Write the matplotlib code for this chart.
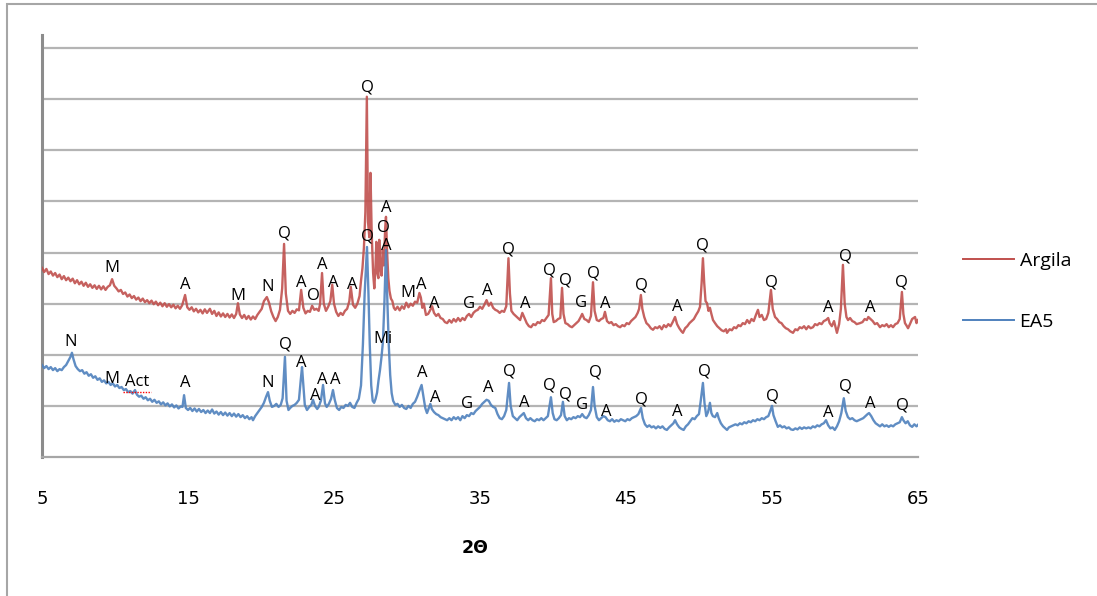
import matplotlib
matplotlib.use("Agg")
import matplotlib.pyplot as plt
from matplotlib.patches import Rectangle
from matplotlib.lines import Line2D

# --- Argila (red) : 2theta / intensity (grid units) ---
argila_2theta = [
    5.0, 5.15, 5.3, 5.45, 5.6, 5.75, 5.9, 6.05, 6.2, 6.35, 6.5, 6.65, 6.8, 6.95, 7.1, 7.25, 7.4, 7.55,
    7.7, 7.85, 8.0, 8.15, 8.3, 8.45, 8.6, 8.75, 8.9, 9.05, 9.2, 9.35, 9.5, 9.65, 9.8, 9.95, 10.1, 10.25,
    10.4, 10.55, 10.7, 10.85, 11.0, 11.15, 11.3, 11.45, 11.6, 11.75, 11.9, 12.05, 12.2, 12.35, 12.5,
    12.65, 12.8, 12.95, 13.1, 13.25, 13.4, 13.55, 13.7, 13.85, 14.0, 14.15, 14.3, 14.45, 14.6, 14.8,
    14.95, 15.1, 15.25, 15.4, 15.55, 15.7, 15.85, 16.0, 16.15, 16.3, 16.5, 16.65, 16.8, 16.95, 17.1,
    17.25, 17.4, 17.55, 17.7, 17.85, 18.0, 18.15, 18.3, 18.42, 18.55, 18.7, 18.85, 19.0, 19.15, 19.3,
    19.45, 19.6, 19.75, 19.9, 20.05, 20.2, 20.4, 20.55, 20.7, 20.85, 21.0, 21.15, 21.3, 21.45, 21.58,
    21.7, 21.85, 22.0, 22.15, 22.3, 22.45, 22.6, 22.75, 22.9, 23.05, 23.2, 23.35, 23.5, 23.65, 23.8,
    23.95, 24.05, 24.18, 24.3, 24.45, 24.6, 24.75, 24.88, 25.0, 25.15, 25.3, 25.45, 25.6, 25.75, 25.9,
    26.05, 26.15, 26.3, 26.45, 26.6, 26.75, 26.85, 26.95, 27.05, 27.15, 27.25, 27.33, 27.42, 27.5,
    27.58, 27.68, 27.76, 27.84, 27.9, 27.97, 28.04, 28.1, 28.18, 28.26, 28.34, 28.42, 28.5, 28.56,
    28.64, 28.72, 28.8, 28.9, 29.0, 29.1, 29.2, 29.35, 29.5, 29.65, 29.8, 29.95, 30.1, 30.25, 30.4,
    30.55, 30.7, 30.85, 30.95, 31.05, 31.15, 31.3, 31.45, 31.6, 31.72, 31.85, 32.0, 32.15, 32.3, 32.45,
    32.6, 32.75, 32.9, 33.05, 33.2, 33.35, 33.5, 33.65, 33.8, 33.95, 34.1, 34.25, 34.4, 34.55, 34.7,
    34.85, 35.0, 35.15, 35.3, 35.45, 35.6, 35.75, 35.9, 36.05, 36.2, 36.35, 36.5, 36.65, 36.8, 36.95,
    37.05, 37.15, 37.3, 37.45, 37.6, 37.75, 37.9, 38.05, 38.2, 38.35, 38.5, 38.65, 38.8, 38.95, 39.1,
    39.25, 39.4, 39.55, 39.7, 39.86, 39.95, 40.05, 40.2, 40.35, 40.5, 40.62, 40.72, 40.85, 41.0, 41.15,
    41.3, 41.45, 41.6, 41.75, 41.9, 42.0, 42.15, 42.3, 42.45, 42.6, 42.74, 42.85, 43.0, 43.15, 43.3,
    43.45, 43.56, 43.7, 43.85, 44.0, 44.15, 44.3, 44.45, 44.6, 44.75, 44.9, 45.05, 45.2, 45.35, 45.5,
    45.65, 45.8, 45.9, 46.02, 46.12, 46.25, 46.4, 46.55, 46.7, 46.85, 47.0, 47.15, 47.3, 47.45, 47.6,
    47.75, 47.9, 48.05, 48.2, 48.36, 48.5, 48.65, 48.8, 48.9, 49.05, 49.2, 49.35, 49.5, 49.65, 49.8,
    49.95, 50.07, 50.18, 50.27, 50.36, 50.45, 50.55, 50.65, 50.75, 50.85, 50.96, 51.1, 51.25, 51.4,
    51.55, 51.7, 51.85, 51.92, 52.1, 52.25, 52.4, 52.55, 52.7, 52.85, 53.0, 53.15, 53.3, 53.45, 53.6,
    53.75, 53.9, 54.04, 54.15, 54.3, 54.45, 54.6, 54.75, 54.93, 55.05, 55.21, 55.35, 55.5, 55.65, 55.8,
    55.95, 56.1, 56.25, 56.44, 56.6, 56.75, 56.9, 57.05, 57.2, 57.35, 57.5, 57.65, 57.81, 57.95, 58.1,
    58.25, 58.4, 58.55, 58.7, 58.85, 58.95, 59.1, 59.25, 59.45, 59.6, 59.72, 59.86, 59.98, 60.1, 60.21,
    60.35, 60.5, 60.65, 60.8, 61.03, 61.2, 61.35, 61.5, 61.6, 61.75, 61.9, 62.05, 62.2, 62.4, 62.55,
    62.7, 62.85, 63.0, 63.15, 63.29, 63.45, 63.6, 63.75, 63.9, 64.0, 64.11, 64.2, 64.32, 64.45, 64.6,
    64.8, 64.9, 65.0,
]
argila_int = [
    3.70, 3.62, 3.68, 3.58, 3.63, 3.55, 3.60, 3.52, 3.57, 3.48, 3.54, 3.46, 3.51, 3.44, 3.49, 3.40, 3.46, 3.38,
    3.43, 3.35, 3.41, 3.33, 3.38, 3.31, 3.36, 3.29, 3.35, 3.28, 3.34, 3.27, 3.33, 3.36, 3.48, 3.35, 3.30, 3.24,
    3.27, 3.19, 3.22, 3.14, 3.18, 3.11, 3.15, 3.08, 3.12, 3.05, 3.10, 3.03, 3.07, 3.01, 3.06,
    2.99, 3.04, 2.97, 3.02, 2.95, 3.01, 2.94, 2.99, 2.93, 2.98, 2.91, 2.96, 2.90, 2.97, 3.17,
    2.93, 2.88, 2.93, 2.85, 2.90, 2.83, 2.88, 2.81, 2.89, 2.82, 2.90, 2.80, 2.86, 2.76, 2.83,
    2.75, 2.81, 2.74, 2.80, 2.73, 2.79, 2.72, 2.80, 3.01, 2.79, 2.72, 2.78, 2.70, 2.76, 2.69,
    2.75, 2.70, 2.78, 2.84, 2.90, 3.05, 3.13, 3.02, 2.85, 2.74, 2.66, 2.74, 2.88, 3.30, 4.17,
    3.20, 2.86, 2.80, 2.86, 2.82, 2.89, 2.87, 3.27, 2.92, 2.81, 2.86, 2.84, 2.96, 2.88, 2.90,
    2.86, 3.00, 3.60, 3.00, 2.86, 2.94, 3.05, 3.37, 3.00, 2.84, 2.76, 2.82, 2.78, 2.86, 2.90,
    3.05, 3.33, 2.98, 2.92, 3.00, 3.15, 3.45, 3.70, 4.10, 4.80, 7.05, 4.60, 4.30, 5.56,
    4.40, 3.60, 3.30, 3.70, 4.21, 3.60, 3.50, 4.25, 3.70, 3.55, 4.05, 3.75, 4.45, 4.70,
    4.00, 3.50, 3.25, 3.10, 3.05, 2.92, 2.88, 2.94, 2.87, 2.95, 2.90, 3.02, 2.93, 3.00, 2.96,
    3.04, 3.02, 3.21, 3.12, 2.92, 3.00, 2.78, 2.80, 2.88, 2.95, 2.82, 2.76, 2.80, 2.72, 2.70,
    2.64, 2.62, 2.68, 2.63, 2.70, 2.65, 2.72, 2.66, 2.72, 2.68, 2.76, 2.80, 2.74, 2.82, 2.86,
    2.88, 2.94, 2.90, 2.98, 3.07, 2.96, 3.02, 2.92, 2.88, 2.86, 2.82, 2.86, 2.84, 2.95, 3.89,
    3.20, 2.86, 2.80, 2.76, 2.72, 2.68, 2.82, 2.72, 2.62, 2.56, 2.54, 2.60, 2.58, 2.64, 2.62,
    2.68, 2.66, 2.72, 2.78, 3.50, 2.80, 2.64, 2.66, 2.70, 2.72, 3.31, 2.80, 2.62, 2.60, 2.56,
    2.54, 2.58, 2.62, 2.66, 2.74, 2.80, 2.70, 2.68, 2.64, 2.76, 3.42, 2.86, 2.68, 2.66, 2.70,
    2.72, 2.84, 2.66, 2.62, 2.64, 2.58, 2.60, 2.56, 2.54, 2.58, 2.56, 2.62, 2.60, 2.66, 2.70,
    2.74, 2.82, 2.90, 3.17, 2.90, 2.74, 2.62, 2.58, 2.52, 2.49, 2.54, 2.52, 2.56, 2.50, 2.58,
    2.54, 2.60, 2.56, 2.64, 2.74, 2.60, 2.52, 2.46, 2.43, 2.52, 2.56, 2.62, 2.66, 2.70, 2.78,
    2.85, 2.94, 3.40, 3.89, 3.40, 3.05, 3.01, 2.86, 2.92, 2.80, 2.68, 2.62, 2.56, 2.52,
    2.48, 2.46, 2.50, 2.43, 2.50, 2.48, 2.54, 2.52, 2.58, 2.56, 2.62, 2.60, 2.68, 2.62, 2.70,
    2.66, 2.78, 2.88, 2.74, 2.78, 2.68, 2.70, 2.82, 3.27, 2.90, 2.74, 2.70, 2.64, 2.62, 2.56,
    2.52, 2.50, 2.46, 2.43, 2.50, 2.48, 2.54, 2.52, 2.56, 2.50, 2.56, 2.52, 2.54, 2.60, 2.58,
    2.62, 2.60, 2.66, 2.68, 2.72, 2.62, 2.56, 2.66, 2.43, 2.60, 2.90, 3.76, 3.00, 2.74, 2.68,
    2.72, 2.66, 2.64, 2.60, 2.62, 2.64, 2.70, 2.68, 2.74, 2.70, 2.66, 2.60, 2.62, 2.54, 2.58,
    2.56, 2.60, 2.54, 2.58, 2.54, 2.60, 2.62, 2.70, 3.23, 2.80, 2.62, 2.58, 2.52, 2.60, 2.70,
    2.74, 2.62, 2.68,
]

# --- EA5 (blue) ---
ea5_2theta = [
    5.0, 5.15, 5.3, 5.45, 5.6, 5.75, 5.9, 6.05, 6.2, 6.35, 6.5, 6.65, 6.8, 6.95, 7.05, 7.15, 7.3, 7.45,
    7.6, 7.75, 7.9, 8.05, 8.2, 8.35, 8.5, 8.65, 8.8, 8.95, 9.1, 9.25, 9.4, 9.55, 9.7, 9.85, 10.0, 10.15,
    10.3, 10.45, 10.6, 10.75, 10.9, 11.05, 11.2, 11.37, 11.5, 11.65, 11.8, 11.95, 12.1, 12.25, 12.4,
    12.55, 12.7, 12.85, 13.0, 13.15, 13.3, 13.45, 13.6, 13.75, 13.9, 14.05, 14.2, 14.35, 14.5, 14.62,
    14.73, 14.85, 15.0, 15.15, 15.3, 15.45, 15.6, 15.75, 15.9, 16.05, 16.2, 16.35, 16.5, 16.65, 16.8,
    16.95, 17.1, 17.25, 17.4, 17.55, 17.7, 17.85, 18.0, 18.15, 18.3, 18.45, 18.6, 18.75, 18.9, 19.05,
    19.2, 19.35, 19.45, 19.6, 19.75, 19.9, 20.05, 20.2, 20.35, 20.48, 20.6, 20.75, 20.9, 21.05, 21.2,
    21.35, 21.48, 21.64, 21.75, 21.88, 22.0, 22.15, 22.3, 22.45, 22.6, 22.72, 22.81, 22.9, 23.0, 23.15,
    23.3, 23.45, 23.56, 23.7, 23.85, 23.95, 24.1, 24.25, 24.38, 24.5, 24.65, 24.8, 24.93, 25.05, 25.2,
    25.35, 25.5, 25.65, 25.8, 25.95, 26.1, 26.25, 26.4, 26.55, 26.7, 26.85, 26.98, 27.1, 27.26, 27.36,
    27.45, 27.55, 27.65, 27.75, 27.85, 27.95, 28.05, 28.15, 28.25, 28.35, 28.45, 28.56, 28.65, 28.75,
    28.85, 28.95, 29.05, 29.2, 29.35, 29.5, 29.65, 29.8, 29.95, 30.1, 30.25, 30.4, 30.55, 30.7, 30.85,
    31.0, 31.12, 31.25, 31.37, 31.5, 31.6, 31.7, 31.85, 32.0, 32.15, 32.3, 32.45, 32.6, 32.75, 32.9,
    33.05, 33.2, 33.35, 33.5, 33.65, 33.8, 33.95, 34.1, 34.25, 34.4, 34.55, 34.7, 34.85, 35.0, 35.15,
    35.3, 35.45, 35.6, 35.75, 35.9, 36.05, 36.2, 36.35, 36.5, 36.65, 36.8, 36.99, 37.1, 37.25, 37.4,
    37.55, 37.7, 37.85, 38.0, 38.15, 38.3, 38.45, 38.6, 38.75, 38.9, 39.05, 39.2, 39.35, 39.5, 39.65,
    39.86, 39.98, 40.1, 40.25, 40.4, 40.55, 40.68, 40.8, 40.95, 41.1, 41.25, 41.4, 41.55, 41.7, 41.85,
    42.0, 42.15, 42.3, 42.45, 42.6, 42.74, 42.85, 43.0, 43.15, 43.3, 43.45, 43.6, 43.75, 43.9, 44.05,
    44.2, 44.35, 44.5, 44.65, 44.8, 44.95, 45.1, 45.25, 45.4, 45.55, 45.7, 45.85, 46.03, 46.15, 46.3,
    46.45, 46.6, 46.75, 46.9, 47.05, 47.2, 47.35, 47.5, 47.65, 47.8, 47.95, 48.1, 48.25, 48.36, 48.5,
    48.65, 48.8, 48.95, 49.1, 49.25, 49.4, 49.55, 49.7, 49.85, 50.0, 50.12, 50.27, 50.38, 50.5, 50.62,
    50.75, 50.85, 50.95, 51.1, 51.25, 51.35, 51.5, 51.65, 51.8, 51.92, 52.05, 52.2, 52.35, 52.5, 52.65,
    52.8, 52.95, 53.1, 53.25, 53.4, 53.55, 53.7, 53.85, 54.0, 54.15, 54.3, 54.45, 54.6, 54.75, 54.88,
    55.0, 55.1, 55.25, 55.4, 55.55, 55.7, 55.85, 56.0, 56.15, 56.3, 56.45, 56.6, 56.75, 56.9, 57.05,
    57.2, 57.35, 57.5, 57.65, 57.8, 57.95, 58.1, 58.25, 58.4, 58.55, 58.7, 58.85, 59.0, 59.15, 59.3,
    59.45, 59.6, 59.75, 59.92, 60.05, 60.2, 60.35, 60.5, 60.65, 60.8, 60.95, 61.1, 61.25, 61.4, 61.55,
    61.65, 61.8, 61.95, 62.1, 62.25, 62.4, 62.55, 62.7, 62.85, 63.0, 63.15, 63.3, 63.45, 63.6, 63.75,
    63.9, 64.0, 64.15, 64.3, 64.45, 64.6, 64.75, 64.9, 65.0,
]
ea5_int = [
    1.80, 1.74, 1.78, 1.72, 1.76, 1.70, 1.74, 1.68, 1.72, 1.70, 1.76, 1.80, 1.88, 1.96, 2.04, 1.92, 1.78, 1.72,
    1.68, 1.70, 1.63, 1.66, 1.59, 1.62, 1.55, 1.58, 1.51, 1.54, 1.47, 1.50, 1.44, 1.47, 1.41, 1.44, 1.38, 1.41,
    1.35, 1.37, 1.31, 1.33, 1.27, 1.29, 1.24, 1.31, 1.22, 1.18, 1.20, 1.14, 1.17, 1.11, 1.14,
    1.08, 1.12, 1.06, 1.09, 1.03, 1.07, 1.01, 1.05, 0.99, 1.03, 0.97, 1.01, 0.95, 0.99, 0.98,
    1.21, 0.96, 0.92, 0.96, 0.90, 0.95, 0.89, 0.94, 0.88, 0.92, 0.86, 0.91, 0.86, 0.93, 0.85,
    0.89, 0.83, 0.88, 0.82, 0.87, 0.81, 0.86, 0.80, 0.85, 0.79, 0.84, 0.78, 0.82, 0.76, 0.80,
    0.74, 0.78, 0.72, 0.80, 0.86, 0.92, 0.98, 1.06, 1.18, 1.27, 1.10, 0.98, 1.00, 1.04, 0.98,
    1.02, 1.15, 1.96, 1.10, 0.92, 0.96, 1.00, 1.02, 1.06, 1.12, 1.50, 1.76, 1.40, 1.02, 0.92,
    0.98, 1.02, 1.12, 1.00, 0.94, 0.98, 1.10, 1.41, 1.05, 0.98, 1.04, 1.14, 1.31, 1.12, 0.96,
    0.92, 0.98, 0.96, 1.02, 1.00, 1.06, 0.98, 0.96, 1.06, 1.14, 1.40, 2.20, 3.20, 4.11, 3.20,
    2.20, 1.40, 1.10, 1.06, 1.14, 1.26, 1.50, 1.70, 1.95, 2.25, 3.00, 4.05, 3.10, 2.20,
    1.60, 1.25, 1.10, 1.02, 1.04, 0.98, 1.02, 0.96, 0.94, 1.00, 0.96, 1.04, 1.08, 1.18, 1.30,
    1.41, 1.20, 0.96, 0.86, 0.96, 1.04, 0.94, 0.88, 0.84, 0.82, 0.78, 0.76, 0.74, 0.72, 0.76,
    0.72, 0.78, 0.74, 0.78, 0.72, 0.80, 0.76, 0.82, 0.80, 0.86, 0.84, 0.90, 0.94, 0.98, 1.04,
    1.08, 1.12, 1.10, 1.02, 0.98, 0.96, 0.84, 0.76, 0.74, 0.80, 0.92, 1.45, 1.00, 0.80, 0.76,
    0.72, 0.78, 0.82, 0.86, 0.76, 0.72, 0.76, 0.72, 0.70, 0.74, 0.72, 0.76, 0.72, 0.76, 0.80,
    1.17, 0.86, 0.74, 0.72, 0.76, 0.82, 1.08, 0.80, 0.72, 0.76, 0.74, 0.78, 0.76, 0.80, 0.78,
    0.84, 0.78, 0.76, 0.82, 0.92, 1.37, 1.00, 0.78, 0.72, 0.76, 0.80, 0.78, 0.72, 0.70, 0.74,
    0.69, 0.72, 0.70, 0.74, 0.72, 0.70, 0.74, 0.72, 0.76, 0.78, 0.80, 0.84, 0.96, 0.76, 0.64,
    0.59, 0.62, 0.58, 0.60, 0.56, 0.60, 0.57, 0.60, 0.55, 0.53, 0.58, 0.62, 0.66, 0.72, 0.64,
    0.58, 0.55, 0.53, 0.60, 0.64, 0.70, 0.76, 0.74, 0.80, 0.84, 1.10, 1.45, 1.05, 0.80, 0.88,
    1.06, 0.86, 0.80, 0.78, 0.86, 0.76, 0.66, 0.60, 0.56, 0.53, 0.58, 0.60, 0.62, 0.64, 0.62,
    0.66, 0.64, 0.68, 0.66, 0.70, 0.68, 0.72, 0.70, 0.74, 0.72, 0.76, 0.74, 0.78, 0.80, 0.90,
    1.00, 0.82, 0.70, 0.59, 0.62, 0.58, 0.60, 0.56, 0.58, 0.54, 0.53, 0.56, 0.54, 0.58, 0.55,
    0.58, 0.56, 0.58, 0.56, 0.60, 0.58, 0.62, 0.60, 0.64, 0.66, 0.72, 0.62, 0.56, 0.58, 0.53,
    0.60, 0.70, 0.86, 1.15, 0.90, 0.78, 0.74, 0.76, 0.72, 0.70, 0.72, 0.74, 0.76, 0.80, 0.84,
    0.86, 0.80, 0.72, 0.66, 0.63, 0.60, 0.64, 0.60, 0.62, 0.59, 0.62, 0.60, 0.64, 0.66, 0.68,
    0.78, 0.72, 0.66, 0.70, 0.62, 0.59, 0.64, 0.60, 0.63,
]

# --- phase labels (text, 2theta, height) ---
argila_lbl = ["M", "A", "M", "N", "Q", "A", "O", "A", "A", "A", "Q", "Q", "A", "O", "A", "M", "A", "A",
              "G", "A", "Q", "A", "Q", "Q", "G", "Q", "A", "Q", "A", "Q", "Q", "A", "Q", "A", "Q"]
argila_lbl_x = [9.79, 14.79, 18.42, 20.48, 21.58, 22.74, 23.56, 24.18, 24.93, 26.23, 27.26, 27.26,
                28.56, 28.36, 28.56, 30.07, 30.96, 31.85, 34.25, 35.48, 36.92, 38.08, 39.73, 40.82,
                41.92, 42.74, 43.56, 46.03, 48.49, 50.27, 54.93, 58.84, 60.0, 61.71, 63.9]
argila_lbl_y = [3.70, 3.37, 3.15, 3.33, 4.38, 3.41, 3.15, 3.76, 3.41, 3.37, 7.24, 4.31,
                4.87, 4.48, 4.13, 3.21, 3.37, 2.99, 2.99, 3.25, 4.07, 2.99, 3.64, 3.46,
                3.01, 3.60, 2.99, 3.35, 2.94, 4.13, 3.42, 2.92, 3.93, 2.92, 3.42]

ea5_lbl = ["N", "M", "Act", "A", "N", "Q", "A", "A", "A", "A", "Mi", "A", "A", "G", "A", "Q", "A",
           "Q", "Q", "G", "Q", "A", "Q", "A", "Q", "Q", "A", "Q", "A", "Q"]
ea5_lbl_x = [6.99, 9.79, 11.51, 14.79, 20.48, 21.64, 22.74, 23.70, 24.18, 25.07, 28.36, 31.03, 31.92,
             34.11, 35.55, 37.05, 38.01, 39.73, 40.82, 41.99, 42.88, 43.63, 46.03, 48.49, 50.34,
             55.0, 58.84, 60.0, 61.71, 63.97]
ea5_lbl_y = [2.25, 1.53, 1.47, 1.45, 1.45, 2.21, 1.84, 1.19, 1.51, 1.51, 2.31, 1.64, 1.15,
             1.04, 1.35, 1.68, 1.06, 1.39, 1.23, 1.02, 1.66, 0.88, 1.12, 0.88, 1.68,
             1.19, 0.86, 1.37, 1.04, 1.00]

x_ticks = [5, 15, 25, 35, 45, 55, 65]

red = "#C0504D"
blue = "#4F81BD"

fig = plt.figure(figsize=(10.97, 5.96), dpi=100)
ax = fig.add_axes([0.0383, 0.2332, 0.7985, 0.7074])

ax.plot(argila_2theta, argila_int, color=red, lw=1.7, alpha=0.9, label="Argila", zorder=3)
ax.plot(ea5_2theta, ea5_int, color=blue, lw=1.7, alpha=0.9, label="EA5", zorder=3)

for t, x, y in zip(argila_lbl, argila_lbl_x, argila_lbl_y):
    ax.text(x, y, t, ha="center", va="center", fontsize=12, family="Open Sans", color="black", zorder=4)
for t, x, y in zip(ea5_lbl, ea5_lbl_x, ea5_lbl_y):
    ax.text(x, y, t, ha="center", va="center", fontsize=12, family="Open Sans", color="black", zorder=4)

# spell-check squiggle under "Act"
i_act = ea5_lbl.index("Act")
ax.plot([ea5_lbl_x[i_act] - 0.95, ea5_lbl_x[i_act] + 0.95], [ea5_lbl_y[i_act] - 0.19] * 2,
        color="red", lw=1.0, ls=(0, (1, 1)), zorder=4)

ax.set_xlim(5, 65)
ax.set_ylim(0, 8.25)
ax.set_xticks(x_ticks)
ax.set_xticklabels([str(v) for v in x_ticks], family="Liberation Sans Narrow", fontsize=13)
ax.tick_params(axis="x", length=0, pad=24)
ax.set_yticks(range(1, 9))
ax.tick_params(axis="y", length=0, labelleft=False)
ax.grid(axis="y", color="#B4B4B4", lw=1.6)
ax.set_axisbelow(True)

for s in ["top", "right"]:
    ax.spines[s].set_visible(False)
ax.spines["left"].set_color("#8C8C8C")
ax.spines["left"].set_linewidth(2.2)
ax.spines["bottom"].set_color("#A6A6A6")
ax.spines["bottom"].set_linewidth(1.6)

fig.text(0.433, 0.080, "2\u0398", ha="center", va="center", fontsize=12.5, fontweight="bold",
         family="Liberation Sans Narrow")

handles = [Line2D([], [], color=red, lw=1.4), Line2D([], [], color=blue, lw=1.4)]
fig.legend(handles, ["Argila", "EA5"], loc="center left", bbox_to_anchor=(0.862, 0.511),
           frameon=False, handlelength=2.6, handletextpad=0.3, labelspacing=2.2,
           prop={"family": "Open Sans", "size": 14})

# outer chart frame (only top and left edges visible)
fig.add_artist(Rectangle((0.0064, -0.1), 1.2, 1.0933, transform=fig.transFigure,
                         fill=False, edgecolor="#A6A6A6", lw=1.5))

fig.savefig("out.png", dpi=100)
